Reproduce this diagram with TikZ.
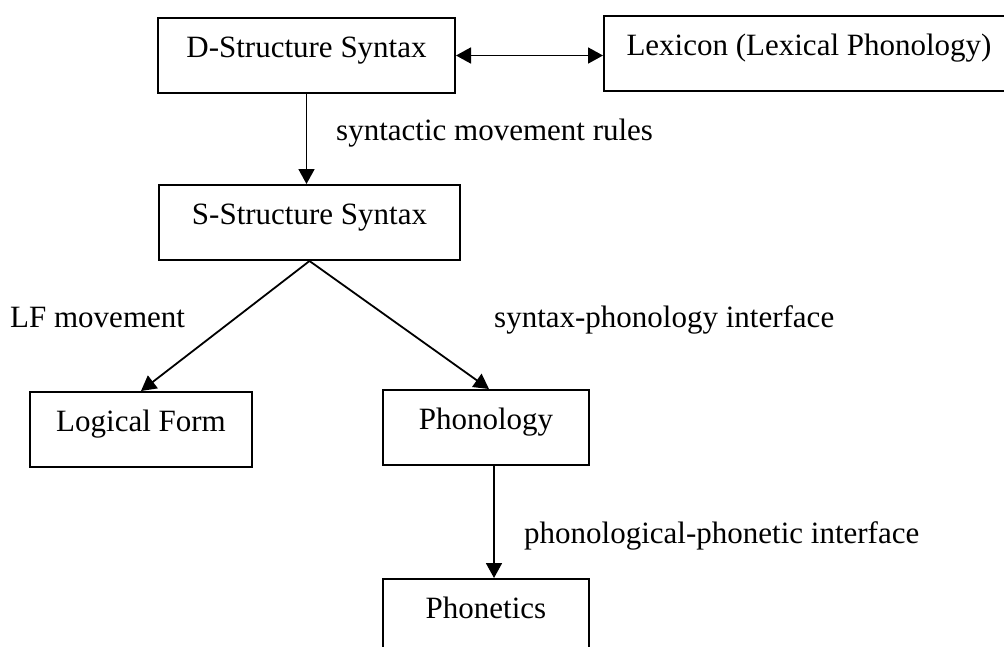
\documentclass[tikz,border=0pt]{standalone}
\usepackage{fontspec}
\setmainfont{Liberation Serif}
\usetikzlibrary{arrows.meta}
\tikzset{
  box/.style={draw, line width=2pt, rectangle, anchor=north west, inner xsep=0pt, inner ysep=0pt,
    text height=39pt, text depth=36pt, align=center, font=\fontsize{31}{37}\selectfont},
  lbl/.style={anchor=base west, inner sep=0pt, font=\fontsize{31}{37}\selectfont},
  tip/.style={Triangle[length=15pt,width=16pt]},
  conn/.style={line width=1.8pt, -{Triangle[length=15pt,width=16pt]}},
  dconn/.style={line width=1.8pt, {Triangle[length=15pt,width=16pt]}-{Triangle[length=15pt,width=16pt]}}
}
\begin{document}
\begin{tikzpicture}[x=1pt,y=-1pt]
\useasboundingbox (0,0) rectangle (1004,646);
\node[box, minimum width=297pt] (D) at (157,17) {D-Structure Syntax};
\node[box, minimum width=410pt] (L) at (603,15) {Lexicon (Lexical Phonology)};
\node[box, minimum width=301pt] (S) at (158,184) {S-Structure Syntax};
\node[box, minimum width=222pt] (LF) at (29,391) {Logical Form};
\node[box, minimum width=206pt] (P) at (382,389) {Phonology};
\node[box, minimum width=206pt] (PH) at (382,578) {Phonetics};

\draw[dconn] (D.east) -- (D.east -| L.west);
\draw[conn] (D.south) -- (D.south |- S.north);
\draw[conn] (S.south) -- (LF.north);
\draw[conn] (S.south) -- ([xshift=3pt]P.north);
\draw[conn] ([xshift=8pt]P.south) -- ([xshift=8pt]PH.north);

\node[lbl] (l1) at (336,140) {syntactic movement rules};
\node[lbl] (l2) at (10,327) {LF movement};
\node[lbl] (l3) at (494,327) {syntax-phonology interface};
\node[lbl] (l4) at (524,543) {phonological-phonetic interface};
\end{tikzpicture}
\end{document}
